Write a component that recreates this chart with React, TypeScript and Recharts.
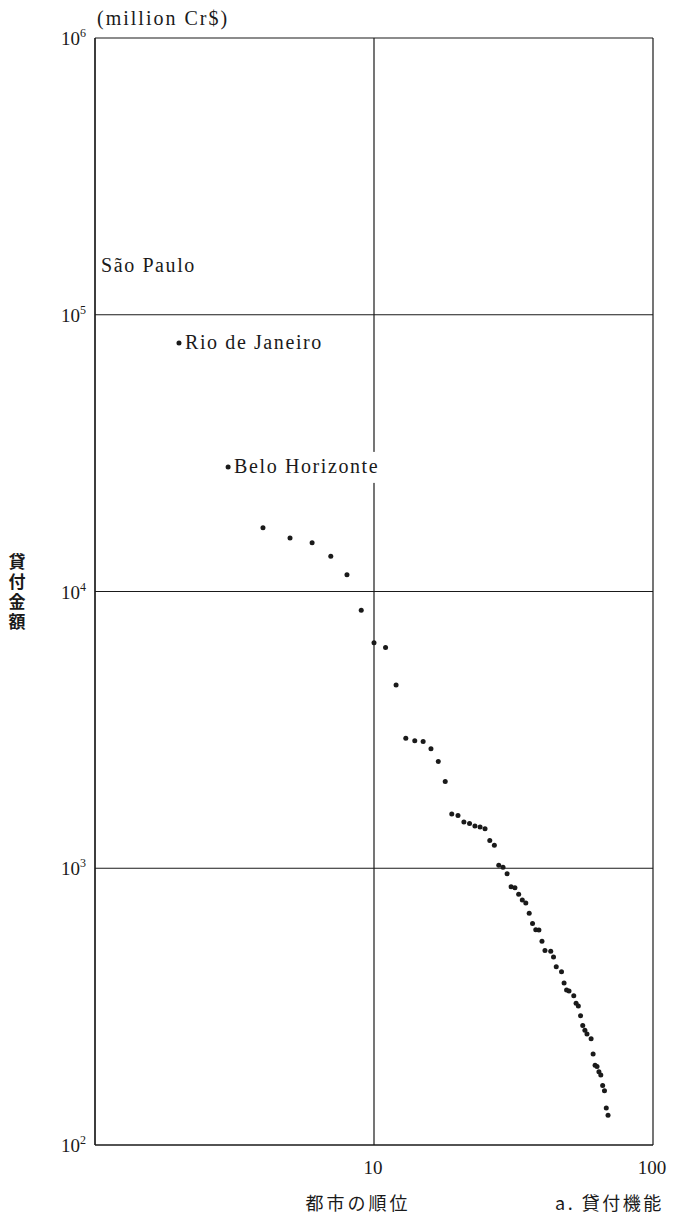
import React from 'react';
import { ScatterChart, Scatter, XAxis, YAxis, CartesianGrid } from 'recharts';

// City rank (x) and lending amount in million Cr$ (y)
const ranks: number[] = [
  1, 2, 3, 4, 5, 6, 7, 8, 9, 10,
  11, 12, 13, 14, 15, 16, 17, 18, 19, 20,
  21, 22, 23, 24, 25, 26, 27, 28, 29, 30,
  31, 32, 33, 34, 35, 36, 37, 38, 39, 40,
  41, 43, 44, 45, 47, 48, 49, 50, 52, 53,
  54, 55, 56, 57, 58, 60, 61, 62, 63, 64,
  65, 66, 67, 68, 69,
];
const amounts: number[] = [
  150000, 79000, 28200, 17000, 15600, 15000, 13400, 11500, 8550, 6530,
  6270, 4590, 2950, 2890, 2870, 2700, 2430, 2060, 1570, 1550,
  1470, 1450, 1420, 1410, 1390, 1260, 1210, 1025, 1008, 956,
  858, 851, 805, 768, 749, 687, 632, 600, 598, 545,
  504, 501, 478, 441, 423, 385, 363, 360, 346, 325,
  318, 293, 270, 260, 252, 242, 213, 194, 192, 184,
  179, 164, 157, 136, 128,
];
const cityNames: string[] = ['São Paulo', 'Rio de Janeiro', 'Belo Horizonte'];

const xTicks: number[] = [1, 10, 100];
const xTickLabels: string[] = ['', '10', '100'];
const yTicks: number[] = [100, 1000, 10000, 100000, 1000000];
const yTickExponents: string[] = ['2', '3', '4', '5', '6'];

const unitLabel = '(million Cr$)';
const yTitle = '貸付金額';
const xTitle = '都市の順位';
const panelTitle = 'a. 貸付機能';

const data = ranks.map((r, i) => ({ rank: r, amount: amounts[i], name: cityNames[i] ?? '' }));

const SERIF = '"Liberation Serif", "Times New Roman", serif';
const CJK = '"Noto Sans CJK JP", "Noto Sans", sans-serif';
const INK = '#1a1a1a';

const XTick = (props: any) => {
  const { x, y, payload } = props;
  const idx = xTicks.indexOf(payload.value);
  const label = idx >= 0 ? xTickLabels[idx] : '';
  if (!label) return <g />;
  return (
    <text x={x - 1} y={y + 21} textAnchor="middle" fontFamily={SERIF} fontSize={19} fill={INK}>
      {label}
    </text>
  );
};

const YTick = (props: any) => {
  const { x, y, payload } = props;
  const idx = yTicks.indexOf(payload.value);
  const exp = idx >= 0 ? yTickExponents[idx] : '';
  return (
    <text x={x - 1} y={y + 7} textAnchor="end" fontFamily={SERIF} fontSize={19} fill={INK}>
      10
      <tspan fontSize={12} dy={-8}>{exp}</tspan>
    </text>
  );
};

const Dot = (props: any) => {
  const { cx, cy, payload } = props;
  const name: string = payload?.name ?? '';
  const showDot = payload?.rank !== 1;
  const textW = name.length * 11;
  return (
    <g>
      {showDot && <circle cx={cx} cy={cy} r={2.5} fill={INK} />}
      {name && (
        <g>
          <rect x={cx + 5} y={cy - 15} width={textW} height={31} fill="#fff" />
          <text
            x={cx + 6}
            y={cy + 6}
            fontFamily={SERIF}
            fontSize={20}
            letterSpacing={1.6}
            fill={INK}
          >
            {name}
          </text>
        </g>
      )}
    </g>
  );
};

export default function App() {
  return (
    <div style={{ position: 'absolute', left: 0, top: 0, width: 673, height: 1219, background: '#fff' }}>
      <ScatterChart
        width={673}
        height={1219}
        margin={{ top: 38, right: 20, bottom: 0, left: 0 }}
      >
        <CartesianGrid stroke="#1a1a1a" strokeWidth={1.2} />
        <XAxis
          type="number"
          dataKey="rank"
          scale="log"
          domain={[1, 100]}
          ticks={xTicks}
          allowDataOverflow
          height={74}
          tickLine={false}
          axisLine={{ stroke: '#1a1a1a', strokeWidth: 1.2 }}
          tick={<XTick />}
          interval={0}
        />
        <YAxis
          type="number"
          dataKey="amount"
          scale="log"
          domain={[100, 1000000]}
          ticks={yTicks}
          allowDataOverflow
          width={95}
          tickLine={false}
          axisLine={{ stroke: '#1a1a1a', strokeWidth: 1.2 }}
          tick={<YTick />}
          interval={0}
        />
        <Scatter data={data} shape={<Dot />} isAnimationActive={false} />
      </ScatterChart>
      <svg
        width={673}
        height={1219}
        style={{ position: 'absolute', left: 0, top: 0, pointerEvents: 'none' }}
      >
        <text x={97} y={25} fontFamily={SERIF} fontSize={20} letterSpacing={2} fill={INK}>
          {unitLabel}
        </text>
        <text
          x={17}
          y={553}
          writingMode="vertical-rl"
          style={{ writingMode: 'vertical-rl' as any }}
          fontFamily={CJK}
          fontWeight={700}
          fontSize={17}
          letterSpacing={3}
          fill={INK}
        >
          {yTitle}
        </text>
        <text x={358} y={1210} textAnchor="middle" fontFamily={CJK} fontSize={18} letterSpacing={3} fill={INK}>
          {xTitle}
        </text>
        <text x={555} y={1210} fontFamily={CJK} fontSize={18} letterSpacing={2.5} fill={INK}>
          {panelTitle}
        </text>
      </svg>
    </div>
  );
}
